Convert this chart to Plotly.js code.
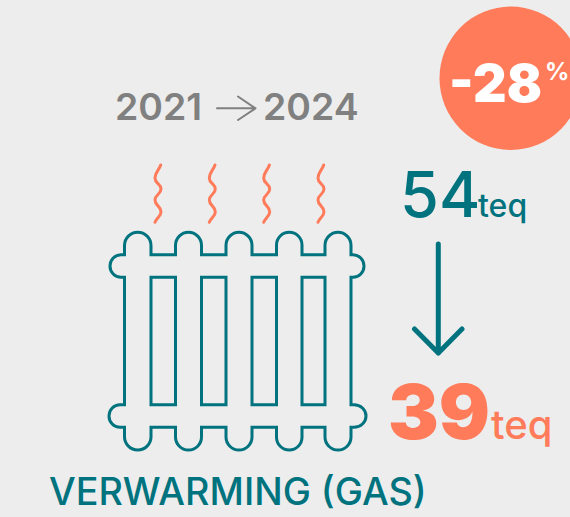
<!DOCTYPE html>
<html><head><meta charset="utf-8">
<script src="https://cdn.plot.ly/plotly-3.0.1.min.js"></script>
<style>html,body{margin:0;padding:0;background:#ededed}#c{width:570px;height:517px}
.shapelayer path{stroke-linecap:round}.layer-above .shapelayer path{stroke-linejoin:round}</style>
</head><body><div id="c"></div>
<script>
const years = [2021, 2024];
const values = [54, 39];
const unit = 'teq';
const change = -28;
const label = 'VERWARMING (GAS)';

const TEAL = '#00737f', ORANGE = '#ff7b5a', GREY = '#808080', BG = '#ededed', FONT = 'Inter, sans-serif';
const k = 0.5523;
function arcTo(x0,y0,x1,y1,vertFirst){
  const dx=x1-x0, dy=y1-y0;
  return vertFirst
    ? `C${x0},${y0+k*dy} ${x1-k*dx},${y1} ${x1},${y1}`
    : `C${x0+k*dx},${y0} ${x1},${y1-k*dy} ${x1},${y1}`;
}
const bumps = [[124.5,151],[175.5,201.5],[226,252],[276.5,302],[325,351]];
const yBT=232.3, yVT=254.7, yKT1=277.3, yKB1=404.7, yVB=427.3, yBB=450;
const kL=110, kR=364;
function radiator(){
  let p = `M${bumps[0][0]},${yKT1} L${kL+11},${yKT1} `;
  p += arcTo(kL+11,yKT1,kL,(yKT1+yVT)/2,false)+' '+arcTo(kL,(yKT1+yVT)/2,kL+11,yVT,true);
  p += ` L${bumps[0][0]},${yVT} `;
  bumps.forEach((b,i)=>{
    const r=(b[1]-b[0])/2, m=(b[0]+b[1])/2;
    p += `L${b[0]},${yBT+r} `+arcTo(b[0],yBT+r,m,yBT,true)+' '+arcTo(m,yBT,b[1],yBT+r,false)+` L${b[1]},${yVT} `;
    if(i<bumps.length-1) p += `L${bumps[i+1][0]},${yVT} `;
  });
  p += `L${kR-11},${yVT} `+arcTo(kR-11,yVT,kR,(yKT1+yVT)/2,false)+' '+arcTo(kR,(yKT1+yVT)/2,kR-11,yKT1,true);
  const last=bumps[4][1];
  p += ` L${last},${yKT1} L${last},${yKB1} L${kR-10},${yKB1} `;
  p += arcTo(kR-10,yKB1,kR+2,(yKB1+yVB)/2,false)+' '+arcTo(kR+2,(yKB1+yVB)/2,kR-10,yVB,true);
  p += ` L${last},${yVB} `;
  for(let i=4;i>=0;i--){
    const b=bumps[i], r=(b[1]-b[0])/2, m=(b[0]+b[1])/2;
    p += `L${b[1]},${yBB-r} `+arcTo(b[1],yBB-r,m,yBB,true)+' '+arcTo(m,yBB,b[0],yBB-r,false)+` L${b[0]},${yVB} `;
    if(i>0) p += `L${bumps[i-1][1]},${yVB} `;
  }
  p += `L${kL+10},${yVB} `+arcTo(kL+10,yVB,kL-1,(yKB1+yVB)/2,false)+' '+arcTo(kL-1,(yKB1+yVB)/2,kL+10,yKB1,true);
  p += ` L${bumps[0][0]},${yKB1} Z`;
  return p;
}
const shapes = [];
const ln = (color,width)=>({color,width});
shapes.push({type:'circle',xref:'x',yref:'y',x0:439.5,x1:582,y0:6.5,y1:150,fillcolor:ORANGE,line:{width:0},layer:'below'});
shapes.push({type:'path',path:radiator(),line:ln(TEAL,3),fillcolor:'rgba(0,0,0,0)',layer:'below'});
for(let i=0;i<4;i++){
  const x0=bumps[i][1], x1=bumps[i+1][0];
  shapes.push({type:'rect',x0,x1,y0:yKT1,y1:yKB1,line:ln(TEAL,3),fillcolor:'rgba(0,0,0,0)',layer:'below'});
}
// heat waves
const wx=[160.7,155,161,155,161,155], wy=[165,178.3,189,200,211.7,222.3];
[0,54.3,108.7,163].forEach(off=>{
  let p=`M${wx[0]+off},${wy[0]} `;
  for(let i=1;i<wx.length;i++){
    const my=(wy[i-1]+wy[i])/2;
    if(i===1) p+=`C${wx[0]+off-2},${wy[0]+6} ${wx[1]+off},${wy[1]-6} ${wx[1]+off},${wy[1]} `;
    else if(i===wx.length-1) p+=`C${wx[i-1]+off},${wy[i-1]+5} ${wx[i]+off+2},${wy[i]-5} ${wx[i]+off},${wy[i]} `;
    else p+=`C${wx[i-1]+off},${my} ${wx[i]+off},${my} ${wx[i]+off},${wy[i]} `;
  }
  shapes.push({type:'path',path:p,line:ln(ORANGE,3),fillcolor:'rgba(0,0,0,0)',layer:'below'});
});
// arrows
shapes.push({type:'path',path:'M217,108.3 L255.5,108.3 M238,96.5 L255.5,108.3 L238,120',line:ln(GREY,2),fillcolor:'rgba(0,0,0,0)'});
shapes.push({type:'path',path:'M438.3,244 L438.3,353 M414.5,329 L438.3,353 L462,329',line:ln(TEAL,5),fillcolor:'rgba(0,0,0,0)'});

function txt(text,x,y,size,color,weight){
  return {text:String(text),x,y,xref:'x',yref:'y',xanchor:'left',yanchor:'middle',showarrow:false,borderpad:0,
    font:{family:FONT,size,color,weight}};
}
const annotations=[
  txt(years[0],114,106.5,37.4,GREY,600),
  txt(years[1],262,106.5,37.4,GREY,600),
  txt(values[0],399,194,63,TEAL,500),
  txt(unit,477,205,32,TEAL,500),
  txt(values[1],387,411,76,ORANGE,900),
  txt(unit,490,424,40,ORANGE,500),
  txt(change,448,83,52,'#ffffff',900),
  txt('%',544,71,24,'#ffffff',700),
  txt(label,48,491,37.7,TEAL,500)
];
Plotly.newPlot('c',[{x:[0,570],y:[0,517],mode:'markers',marker:{opacity:0},hoverinfo:'skip',showlegend:false}],{
  width:570,height:517,margin:{l:0,r:0,t:0,b:0},paper_bgcolor:BG,plot_bgcolor:BG,showlegend:false,
  xaxis:{range:[0,570],visible:false,fixedrange:true},
  yaxis:{range:[517,0],visible:false,fixedrange:true},
  shapes,annotations
},{displayModeBar:false,staticPlot:true});
</script></body></html>
